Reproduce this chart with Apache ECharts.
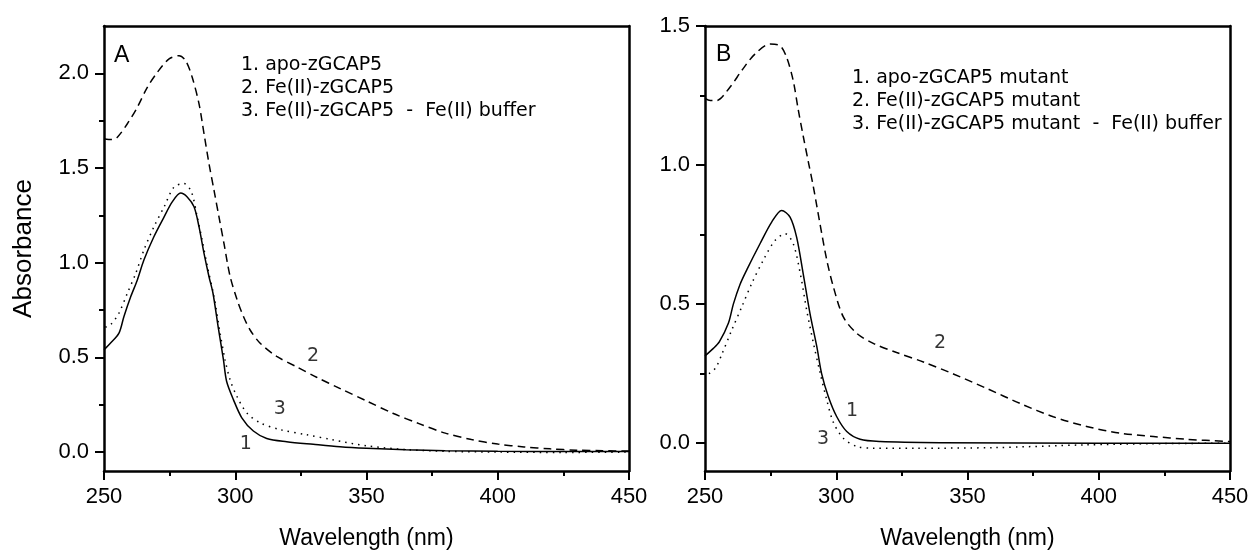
<!DOCTYPE html>
<html>
<head>
<meta charset="utf-8">
<script src="https://cdn.jsdelivr.net/npm/echarts@6/dist/echarts.min.js"></script>
<style>
html,body{margin:0;padding:0;background:#fff;}
#chart{width:1251px;height:553px;}
</style>
</head>
<body>
<div id="chart"></div>
<script>
// ---- Data (wavelength nm, absorbance) ----
const xTicks = [250, 300, 350, 400, 450];
const yTicksA = [0, 0.5, 1.0, 1.5, 2.0];
const yMinorA = [0.25, 0.75, 1.25, 1.75];
const yTicksB = [0, 0.5, 1.0, 1.5];
const yMinorB = [0.25, 0.75, 1.25];

const legendA = ["1. apo-zGCAP5", "2. Fe(II)-zGCAP5", "3. Fe(II)-zGCAP5  -  Fe(II) buffer"];
const legendB = ["1. apo-zGCAP5 mutant", "2. Fe(II)-zGCAP5 mutant", "3. Fe(II)-zGCAP5 mutant  -  Fe(II) buffer"];

// Panel A
const a1 = [[250,0.54],[252.5,0.576],[255.7,0.628],[257.6,0.716],[260.2,0.821],[262.7,0.909],[265.2,1.014],[269,1.137],[272.9,1.242],[276,1.321],[279.2,1.368],[281.7,1.347],[284.3,1.295],[286.2,1.189],[288.1,1.049],[290,0.926],[291.5,0.84],[293.5,0.66],[295.5,0.488],[296.7,0.374],[299.3,0.277],[302.5,0.181],[306.9,0.111],[312,0.072],[319.6,0.055],[329.7,0.041],[339.9,0.028],[350,0.02],[365,0.012],[380,0.007],[400,0.004],[425,0.003],[450,0.003]];
const a2 = [[250,1.655],[253,1.65],[255.1,1.663],[258.9,1.734],[262.7,1.821],[266.5,1.926],[270.3,2.005],[274.8,2.076],[278.6,2.093],[281.1,2.067],[283.6,1.979],[286.2,1.839],[288.1,1.681],[290,1.523],[291.9,1.383],[293.8,1.242],[295.7,1.102],[298,0.93],[300.8,0.8],[303,0.72],[305.6,0.646],[309.4,0.576],[315.8,0.505],[323.4,0.45],[331,0.395],[340,0.335],[350,0.27],[360,0.205],[370,0.15],[380,0.1],[390,0.066],[400,0.042],[410,0.027],[420,0.017],[430,0.01],[440,0.007],[450,0.005]];
const a3 = [[250.5,0.66],[252.5,0.672],[255.7,0.734],[258.9,0.839],[262.1,0.944],[265.2,1.067],[269,1.189],[272.9,1.295],[276.7,1.4],[280.5,1.418],[283.3,1.374],[285.5,1.242],[287.4,1.119],[289.4,0.979],[291.9,0.821],[294.2,0.63],[296.1,0.488],[298,0.383],[300.6,0.295],[304.4,0.207],[309.4,0.155],[317,0.119],[327,0.092],[337,0.065],[350,0.033],[365,0.013],[380,0.004],[400,0.0],[425,-0.002],[450,0.0]];

// Panel B
const b1 = [[250,0.314],[253.2,0.341],[255.5,0.365],[258.9,0.431],[260.8,0.5],[263.3,0.57],[266,0.625],[271,0.718],[275.4,0.795],[279.2,0.837],[282.4,0.813],[284.9,0.741],[287.4,0.61],[290,0.466],[292.6,0.347],[294.4,0.251],[297,0.167],[300.2,0.095],[304,0.042],[309.1,0.014],[316.7,0.006],[339.5,0.002],[400,0.0],[450,0.0]];
const b2 = [[250,1.24],[252,1.232],[254.4,1.232],[259.5,1.28],[264,1.34],[269,1.399],[274.8,1.435],[278.6,1.429],[281.1,1.387],[283.6,1.304],[285.5,1.2],[287.5,1.1],[289.4,1.01],[291.3,0.921],[293.8,0.789],[296.4,0.658],[298.9,0.562],[302.7,0.454],[307.8,0.395],[314.1,0.359],[323,0.326],[333.2,0.292],[344.6,0.249],[357.3,0.197],[370,0.143],[382.7,0.095],[395.4,0.06],[408.1,0.036],[420.8,0.024],[433.5,0.014],[450,0.006]];
const b3 = [[251.5,0.25],[254,0.27],[256.3,0.317],[260.2,0.407],[264,0.49],[267.8,0.574],[272.2,0.658],[276.7,0.729],[280.5,0.753],[283.6,0.718],[286.5,0.6],[288.7,0.48],[291.3,0.36],[293.8,0.255],[296.4,0.155],[298.9,0.075],[302.7,0.018],[307.8,-0.012],[314.1,-0.018],[330,-0.018],[360,-0.016],[395,-0.006],[420,-0.002],[450,0.0]];

// curve number annotations [x, y, text]
const notesA = [[329.6,0.505,"2"],[317,0.228,"3"],[304,0.044,"1"]];
const notesB = [[339.5,0.36,"2"],[306,0.114,"1"],[295,0.014,"3"]];

// ---- Chart ----
const chart = echarts.init(document.getElementById('chart'));
const BLACK = '#000';
const tickFont = {fontFamily: 'Liberation Sans', fontSize: 22, color: BLACK};
const grids = [
  {left: 104, top: 26, width: 525, height: 445, containLabel: false, outerBoundsMode: 'none'},
  {left: 705, top: 26, width: 525, height: 445, containLabel: false, outerBoundsMode: 'none'}
];

function mainX(gi) {
  return {
    type: 'value', gridIndex: gi, position: 'bottom', min: 250, max: 450, interval: 50,
    axisLine: {show: true, onZero: false, lineStyle: {color: BLACK, width: 2.5}},
    axisTick: {show: true, length: 9, lineStyle: {color: BLACK, width: 2}},
    minorTick: {show: true, splitNumber: 2, length: 5, lineStyle: {color: BLACK, width: 2}},
    axisLabel: Object.assign({margin: 15, formatter: v => xTicks.includes(v) ? String(v) : ''}, tickFont),
    splitLine: {show: false},
    name: 'Wavelength (nm)', nameLocation: 'middle', nameGap: 56,
    nameTextStyle: {fontFamily: 'Liberation Sans', fontSize: 23, color: BLACK}
  };
}
function frameX(gi) {
  return {
    type: 'value', gridIndex: gi, position: 'top', min: 250, max: 450,
    axisLine: {show: true, onZero: false, lineStyle: {color: BLACK, width: 2.5}},
    axisTick: {show: false}, axisLabel: {show: false}, splitLine: {show: false}
  };
}
function mainY(gi, min, max, ticks, withName) {
  const o = {
    type: 'value', gridIndex: gi, position: 'left', min: min, max: max,
    axisLine: {show: true, onZero: false, lineStyle: {color: BLACK, width: 2.5}},
    axisTick: {show: true, length: 9, customValues: ticks, lineStyle: {color: BLACK, width: 2}},
    axisLabel: Object.assign({margin: 15, customValues: ticks, formatter: v => v.toFixed(1)}, tickFont),
    splitLine: {show: false}
  };
  if (withName) {
    o.name = 'Absorbance';
    o.nameLocation = 'middle';
    o.nameGap = 67;
    o.nameTextStyle = {fontFamily: 'Liberation Sans', fontSize: 26, color: BLACK};
  }
  return o;
}
function minorY(gi, min, max, ticks) {
  return {
    type: 'value', gridIndex: gi, position: 'left', min: min, max: max,
    axisLine: {show: false, onZero: false},
    axisTick: {show: true, length: 5, customValues: ticks, lineStyle: {color: BLACK, width: 2}},
    axisLabel: {show: false, customValues: ticks}, splitLine: {show: false}
  };
}
function frameY(gi, min, max) {
  return {
    type: 'value', gridIndex: gi, position: 'right', min: min, max: max,
    axisLine: {show: true, onZero: false, lineStyle: {color: BLACK, width: 2.5}},
    axisTick: {show: false}, axisLabel: {show: false}, splitLine: {show: false}
  };
}

function curve(xi, yi, data, type) {
  return {
    type: 'line', xAxisIndex: xi, yAxisIndex: yi, data: data,
    showSymbol: false, smooth: 0.3, silent: true,
    lineStyle: {color: BLACK, width: 1.5, type: type}
  };
}
function notes(xi, yi, arr) {
  return {
    type: 'scatter', xAxisIndex: xi, yAxisIndex: yi, symbolSize: 1, silent: true,
    itemStyle: {color: 'rgba(0,0,0,0)'},
    data: arr.map(n => ({value: [n[0], n[1]], name: n[2]})),
    label: {show: true, position: 'inside', formatter: p => p.name,
      fontFamily: 'DejaVu Sans', fontSize: 19, color: BLACK}
  };
}
function legendText(x, y, lines) {
  return {
    type: 'text', left: x, top: y,
    style: {text: lines.join('\n'), fontFamily: 'DejaVu Sans', fontSize: 19, lineHeight: 23, fill: BLACK}
  };
}

const option = {
  animation: false,
  backgroundColor: '#fff',
  grid: grids,
  xAxis: [mainX(0), frameX(0), mainX(1), frameX(1)],
  yAxis: [
    mainY(0, -0.1, 2.25, yTicksA, true), minorY(0, -0.1, 2.25, yMinorA), frameY(0, -0.1, 2.25),
    mainY(1, -0.1, 1.5, yTicksB, false), minorY(1, -0.1, 1.5, yMinorB), frameY(1, -0.1, 1.5)
  ],
  series: [
    curve(0, 0, a2, [8, 5]),
    curve(0, 0, a3, [1.5, 5]),
    curve(0, 0, a1, 'solid'),
    notes(0, 0, notesA),
    curve(2, 3, b2, [8, 5]),
    curve(2, 3, b3, [1.5, 5]),
    curve(2, 3, b1, 'solid'),
    notes(2, 3, notesB)
  ],
  graphic: [
    legendText(241, 54, legendA),
    legendText(852, 67, legendB),
    {type: 'text', left: 114, top: 44, style: {text: 'A', fontFamily: 'Liberation Sans', fontSize: 23, fill: BLACK}},
    {type: 'text', left: 716, top: 43, style: {text: 'B', fontFamily: 'Liberation Sans', fontSize: 23, fill: BLACK}}
  ]
};
chart.setOption(option);
</script>
</body>
</html>
